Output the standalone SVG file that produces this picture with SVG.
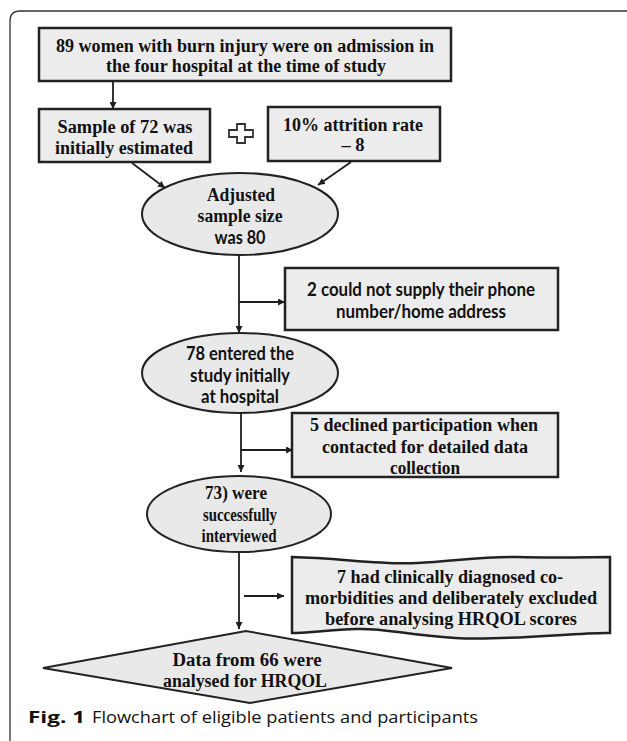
<svg xmlns="http://www.w3.org/2000/svg" width="627" height="741" viewBox="0 0 627 741">
<style>
.box{fill:#ececec;stroke:#222;stroke-width:2.5}
.ell{fill:#e9e9e9;stroke:#222;stroke-width:2}
.ser{font-family:"Liberation Serif","Times New Roman",serif;font-weight:bold;font-size:18.5px;fill:#111;text-anchor:middle;dominant-baseline:central}
.san{font-family:Lato,"Liberation Sans",sans-serif;font-weight:bold;font-size:18px;fill:#111;text-anchor:middle;dominant-baseline:central}
.ln{stroke:#1e1e1e;stroke-width:1.8;fill:none}
.cap{font-family:"Open Sans","Noto Sans",sans-serif;font-size:16.5px;fill:#111}
</style>
<defs>
<marker id="ah" viewBox="0 0 10 10" refX="10" refY="5" markerWidth="7" markerHeight="7" markerUnits="userSpaceOnUse" orient="auto">
<path d="M0,0 L10,5 L0,10 Z" fill="#1e1e1e"/>
</marker>
</defs>
<rect x="0" y="0" width="627" height="741" fill="#fff"/>
<path d="M10,760 L10,21 Q10,11 20,11 L640,11" fill="none" stroke="#333" stroke-width="1.3"/>

<g id="n1">
<rect class="box" x="39" y="28" width="412" height="53"/>
<text class="ser" x="245" y="45.5" textLength="378" lengthAdjust="spacingAndGlyphs">89 women with burn injury were on admission in</text>
<text class="ser" x="246" y="66" textLength="280" lengthAdjust="spacingAndGlyphs">the four hospital at the time of study</text>
</g>
<g id="n2">
<rect class="box" x="39" y="109" width="171" height="53"/>
<text class="ser" x="125" y="127" textLength="135" lengthAdjust="spacingAndGlyphs">Sample of 72 was</text>
<text class="ser" x="124" y="148" textLength="138" lengthAdjust="spacingAndGlyphs">initially  estimated</text>
</g>
<g id="plus">
<path d="M237,124 H245 V130 H253 V137 H245 V143 H237 V137 H229 V130 H237 Z" fill="#fff" stroke="#333" stroke-width="1.8"/>
</g>
<g id="n3">
<rect class="box" x="268" y="107" width="172" height="54"/>
<text class="ser" x="353" y="125" textLength="140" lengthAdjust="spacingAndGlyphs">10% attrition rate</text>
<text class="ser" x="353" y="145">– 8</text>
</g>
<g id="n4">
<ellipse class="ell" cx="240" cy="214" rx="98" ry="41"/>
<text class="ser" x="241" y="195" textLength="68" lengthAdjust="spacingAndGlyphs">Adjusted</text>
<text class="ser" x="240" y="216" textLength="85" lengthAdjust="spacingAndGlyphs">sample size</text>
<text class="san" x="240" y="237" textLength="51" lengthAdjust="spacingAndGlyphs">was 80</text>
</g>
<g id="n5">
<rect class="box" x="285" y="268" width="273" height="62"/>
<text class="san" x="421" y="289" textLength="228" lengthAdjust="spacingAndGlyphs">2 could not supply their phone</text>
<text class="san" x="421" y="311" textLength="170" lengthAdjust="spacingAndGlyphs">number/home address</text>
</g>
<g id="n6">
<ellipse class="ell" cx="240" cy="373" rx="98" ry="40"/>
<text class="san" x="240" y="353" textLength="108" lengthAdjust="spacingAndGlyphs">78 entered the</text>
<text class="san" x="240" y="375" textLength="100" lengthAdjust="spacingAndGlyphs">study initially</text>
<text class="san" x="240" y="396" textLength="78" lengthAdjust="spacingAndGlyphs">at hospital</text>
</g>
<g id="n7">
<rect class="box" x="292" y="413" width="266" height="64"/>
<text class="ser" x="424" y="425" textLength="228" lengthAdjust="spacingAndGlyphs">5 declined participation when</text>
<text class="ser" x="425" y="447" textLength="206" lengthAdjust="spacingAndGlyphs">contacted for detailed data</text>
<text class="ser" x="425" y="468" textLength="70" lengthAdjust="spacingAndGlyphs">collection</text>
</g>
<g id="n8">
<ellipse class="ell" cx="239" cy="514" rx="92" ry="38"/>
<text class="ser" x="236" y="493" textLength="62" lengthAdjust="spacingAndGlyphs">73) were</text>
<text class="ser" x="240" y="515" textLength="74" lengthAdjust="spacingAndGlyphs">successfully</text>
<text class="ser" x="239" y="536" textLength="75" lengthAdjust="spacingAndGlyphs">interviewed</text>
</g>
<g id="n9">
<path class="box" d="M292,557 C340,558 380,565 417,563 C455,561 485,556 517,557 C560,558 590,557 610,557 L610,633 C580,632 510,641 455,638 C405,635 385,628 357,629 C330,630 305,633 292,633 Z"/>
<text class="ser" x="450" y="577" textLength="226" lengthAdjust="spacingAndGlyphs">7 had clinically  diagnosed co-</text>
<text class="ser" x="451" y="598" textLength="292" lengthAdjust="spacingAndGlyphs">morbidities  and deliberately  excluded</text>
<text class="ser" x="451" y="619" textLength="252" lengthAdjust="spacingAndGlyphs">before analysing  HRQOL scores</text>
</g>
<g id="n10">
<path class="ell" d="M43,668 L246,631 L452,668 L250,703 Z"/>
<text class="ser" x="247" y="660" textLength="149" lengthAdjust="spacingAndGlyphs">Data from 66 were</text>
<text class="ser" x="245" y="681" textLength="164" lengthAdjust="spacingAndGlyphs">analysed  for HRQOL</text>
</g>

<g id="connectors">
<line class="ln" x1="113" y1="81" x2="113" y2="109" marker-end="url(#ah)"/>
<line class="ln" x1="132" y1="163" x2="165" y2="188" marker-end="url(#ah)"/>
<line class="ln" x1="351" y1="162" x2="318" y2="185" marker-end="url(#ah)"/>
<line class="ln" x1="239" y1="255" x2="239" y2="333" marker-end="url(#ah)"/>
<line class="ln" x1="239" y1="302" x2="285" y2="302" marker-end="url(#ah)"/>
<line class="ln" x1="241" y1="413" x2="241" y2="472" marker-end="url(#ah)"/>
<line class="ln" x1="241" y1="450" x2="293" y2="450" marker-end="url(#ah)"/>
<line class="ln" x1="239" y1="552" x2="239" y2="629" marker-end="url(#ah)"/>
<line class="ln" x1="244" y1="596" x2="284" y2="596" marker-end="url(#ah)"/>
</g>

<g id="caption">
<text class="cap" x="28" y="723"><tspan font-weight="bold" textLength="57" lengthAdjust="spacingAndGlyphs">Fig. 1</tspan></text>
<text class="cap" x="92" y="723" textLength="386" lengthAdjust="spacingAndGlyphs">Flowchart of eligible patients and participants</text>
</g>
</svg>
